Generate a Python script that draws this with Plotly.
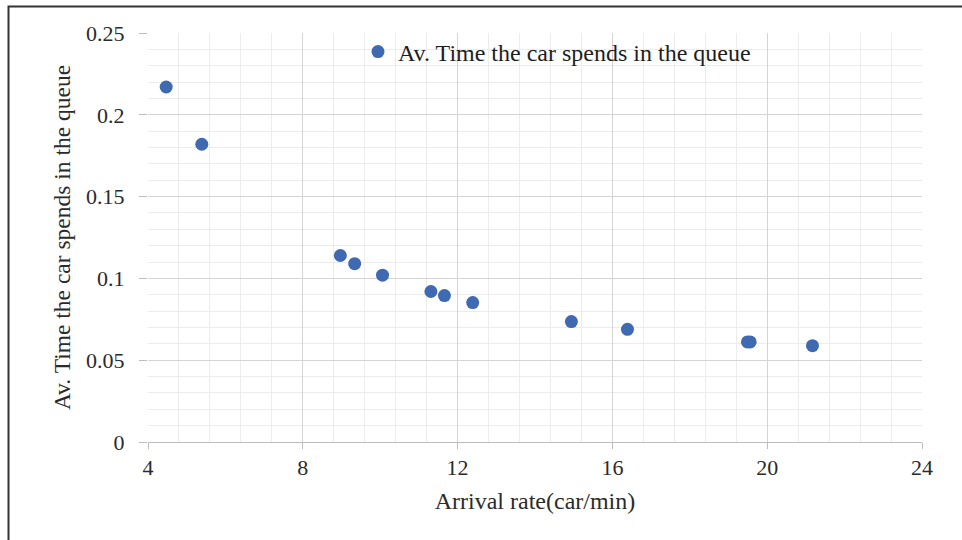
import plotly.graph_objects as go

arrival_rate = [4.47, 5.39, 8.97, 9.34, 10.06, 11.31, 11.66, 12.39, 14.94, 16.39, 19.49, 19.56, 21.17]
avg_queue_time = [0.217, 0.182, 0.114, 0.109, 0.102, 0.092, 0.0895, 0.0852, 0.0736, 0.0689, 0.0612, 0.0612, 0.0589]

series_name = "Av. Time the car spends in the queue"
x_title = "Arrival rate(car/min)"
y_title = "Av. Time the car spends in the queue"

FONT = "Liberation Serif, Times New Roman, serif"
TXT = "#2b2b2b"

fig = go.Figure()
fig.add_trace(go.Scatter(
    x=arrival_rate, y=avg_queue_time, mode="markers", name=series_name,
    marker=dict(color="#3F69B0", size=13),
    showlegend=True,
))

L, R, T, B = 148, 40, 33, 98
W, H = 962, 540
pw, ph = W - L - R, H - T - B

fig.update_layout(
    width=W, height=H,
    margin=dict(l=L, r=R, t=T, b=B, pad=0),
    paper_bgcolor="white", plot_bgcolor="white",
    font=dict(family=FONT, size=22, color=TXT),
    showlegend=True,
    legend=dict(
        x=(358 - L) / pw, xanchor="left",
        y=(H - B - 52) / ph, yanchor="middle",
        bgcolor="rgba(0,0,0,0)", borderwidth=0,
        font=dict(family=FONT, size=24, color="#1e1e1e"),
    ),
    xaxis=dict(
        range=[4, 24], dtick=4, tick0=4,
        showgrid=True, gridcolor="#d4d4d4", gridwidth=1,
        minor=dict(dtick=0.8, showgrid=True, gridcolor="#ececec", gridwidth=1),
        showline=True, linecolor="#bdbdbd", linewidth=1,
        ticks="outside", ticklen=6, tickcolor="#bdbdbd",
        tickfont=dict(family=FONT, size=22, color=TXT),
        zeroline=False,
        title=dict(text=x_title, font=dict(family=FONT, size=24, color=TXT), standoff=12),
    ),
    yaxis=dict(
        range=[0, 0.25], dtick=0.05, tick0=0,
        showgrid=True, gridcolor="#d4d4d4", gridwidth=1,
        minor=dict(dtick=0.01, showgrid=True, gridcolor="#ececec", gridwidth=1),
        showline=False,
        ticks="outside", ticklen=8, tickcolor="#bdbdbd",
        ticklabelstandoff=10,
        tickfont=dict(family=FONT, size=22, color=TXT),
        zeroline=False,
        title=dict(text=y_title, font=dict(family=FONT, size=23.5, color=TXT), standoff=8),
    ),
    shapes=[dict(
        type="rect", xref="paper", yref="paper",
        x0=(8.5 - L) / pw, x1=1.2,
        y0=-0.4, y1=1 + (T - 6.5) / ph,
        line=dict(color="#333333", width=2), fillcolor="rgba(0,0,0,0)",
        layer="above",
    )],
)

fig.write_html("out.html")
